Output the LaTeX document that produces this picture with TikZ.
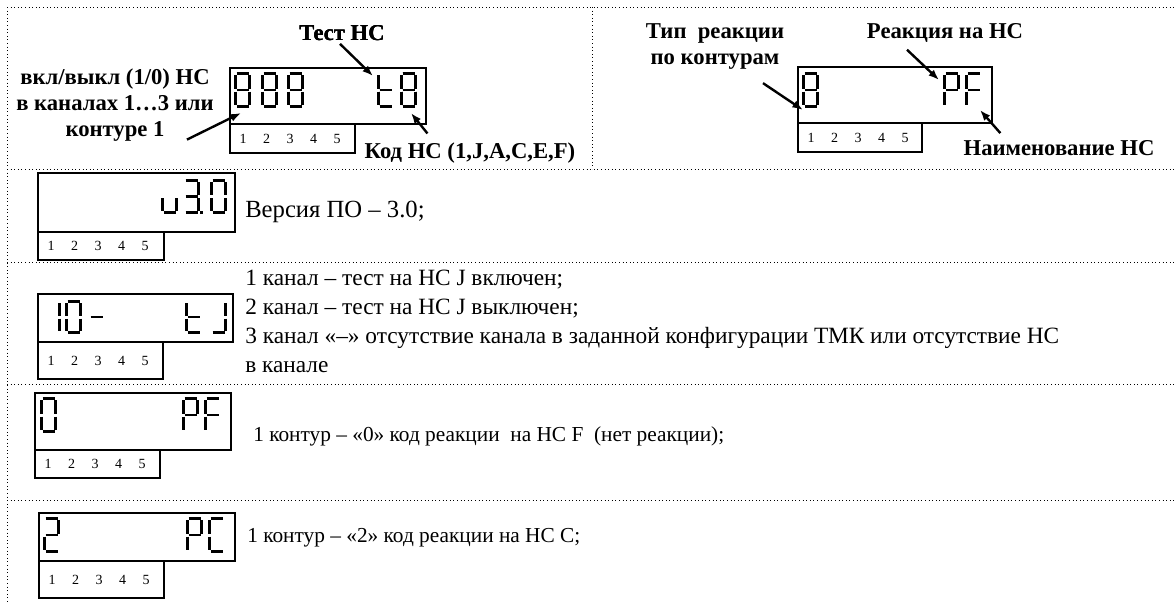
\documentclass[tikz,border=0pt]{standalone}
\usepackage{fontspec}
\setmainfont{Liberation Serif}
\usetikzlibrary{arrows.meta,calc}

\tikzset{
  frameline/.style={dotted, line width=0.7pt},
  lcdbox/.style={line width=1.4pt},
  lcdseg/.style={line width=2.2pt},
  pointer/.style={line width=1.8pt, -{Latex[length=8pt,width=6pt]}},
  callout/.style={font=\fontsize{17}{19.5}\selectfont\bfseries, inner sep=0pt, align=center},
  note/.style={font=\fontsize{16}{21.75}\selectfont, inner sep=0pt, anchor=west, align=left},
  keynum/.style={font=\fontsize{10.5}{12}\selectfont, inner sep=0pt}
}

% segments of one indicator digit, 17 wide, \digh high
\newcommand\lcda{\draw[lcdseg] (2.5,1.5) to (14.5,1.5);}
\newcommand\lcdb{\draw[lcdseg] (15.5,3) to (15.5,\digh/2-1.5);}
\newcommand\lcdc{\draw[lcdseg] (15.5,\digh/2+1.5) to (15.5,\digh-3);}
\newcommand\lcdd{\draw[lcdseg] (2.5,\digh-1.5) to (14.5,\digh-1.5);}
\newcommand\lcde{\draw[lcdseg] (1.5,\digh/2+1.5) to (1.5,\digh-3);}
\newcommand\lcdf{\draw[lcdseg] (1.5,3) to (1.5,\digh/2-1.5);}
\newcommand\lcdg{\draw[lcdseg] (2.5,\digh/2) to (14.5,\digh/2);}
\newcommand\lcdp{\fill (17,\digh-3) rectangle (20,\digh);}

\newcommand\lcddigit[4]{%
  \begin{scope}[shift={(#1,#2)}]
    \def\digh{#3}
    \foreach \s in {#4}{\csname lcd\s\endcsname}
  \end{scope}}

% display with key row: x, y, width, height, key width, key height, name
\newcommand\lcdpanel[7]{%
  \draw[lcdbox] (#1,#2) rectangle ++(#3,#4);
  \draw[lcdbox] (#1,#2+#4) rectangle ++(#5,#6);
  \foreach \n in {1,...,5}
    \node[keynum] (#7-\n) at (#1+13+23.5*\n-23.5,#2+#4+#6/2) {\n};}

\begin{document}
\begin{tikzpicture}[x=0.75pt, y=-0.75pt]
    \useasboundingbox (0,0) rectangle (1176,603);

    \draw[frameline] (7,7) to (1176,7);
    \draw[frameline] (7,7) to (7,603);
    \draw[frameline] (592,7) to (592,169);
    \foreach \y in {169,262,384,500}
      \draw[frameline] (7,\y) to (1176,\y);

    % top left
    \lcdpanel{230}{68}{196}{56}{125}{29}{ka}
    \foreach \x in {234,261,287}
      \lcddigit{\x}{72}{36}{a,b,c,d,e,f,g}
    \lcddigit{377}{72}{36}{f,e,g,d}
    \lcddigit{400}{72}{36}{a,b,c,d,e,f,g}
    \node[callout] (test) at (342,33) {Тест НС};
    \node[callout] (vkl) at (115,105) {вкл/выкл (1/0) НС\\в каналах 1…3 или\\контуре 1};
    \node[callout] (kod) at (470,153) {Код НС (1,J,A,C,E,F)};
    \coordinate (testto) at (373,76);
    \coordinate (vklto) at (241,113);
    \coordinate (kodto) at (411,113);
    \draw[pointer] ([shift={(-2,3)}]test.south) to (testto);
    \draw[pointer] ([shift={(72,-2)}]vkl.south) to (vklto);
    \draw[pointer] ([shift={(63,-9)}]kod.north west) to (kodto);

    % top right
    \lcdpanel{798}{67}{194}{56}{124}{29}{kb}
    \lcddigit{802}{72}{36}{a,b,c,d,e,f,g}
    \lcddigit{943}{72}{36}{a,b,f,e,g}
    \lcddigit{965}{72}{36}{a,f,e,g}
    \node[callout] (tip) at (715,47) {Тип\ \ реакции\\по контурам};
    \node[callout] (reak) at (945,33) {Реакция на НС};
    \node[callout] (naim) at (1059,148) {Наименование НС};
    \coordinate (tipto) at (803,110);
    \coordinate (reakto) at (939,80);
    \coordinate (naimto) at (980,110);
    \draw[pointer] ([shift={(48,13)}]tip.south) to (tipto);
    \draw[pointer] ([shift={(-38,7)}]reak.south) to (reakto);
    \draw[pointer] ([shift={(37,-7)}]naim.north west) to (naimto);

    % version
    \lcdpanel{38}{173}{197}{59}{126}{28}{kc}
    \lcddigit{161}{179}{35}{c,d,e}
    \lcddigit{183}{179}{35}{a,b,g,c,d,p}
    \lcddigit{210}{179}{35}{a,b,c,d,e,f}
    \node[note, font=\fontsize{18.5}{22}\selectfont] (ver) at (245,212) {Версия ПО – 3.0;};

    % channels
    \lcdpanel{38}{294}{195}{48}{125}{37}{kd}
    \lcddigit{44}{300}{34}{b,c}
    \lcddigit{65}{300}{34}{a,b,c,d,e,f}
    \lcddigit{88}{300}{34}{g}
    \lcddigit{185}{300}{34}{f,e,g,d}
    \lcddigit{210}{300}{34}{b,c,d}
    \node[note, font=\fontsize{17.5}{21.75}\selectfont] (chan) at (245,321.5) {1 канал – тест на НС J включен;\\2 канал – тест на НС J выключен;\\3 канал «–» отсутствие канала в заданной конфигурации ТМК или отсутствие НС\\в канале};

    % contour, code 0
    \lcdpanel{35}{393}{196}{57}{125}{28}{ke}
    \lcddigit{40}{397}{36}{a,b,c,d,e,f}
    \lcddigit{182}{397}{36}{a,b,f,e,g}
    \lcddigit{204}{397}{36}{a,f,e,g}
    \node[note] (kont0) at (253,436) {1 контур – «0» код реакции\ \ на НС F\ \ (нет реакции);};

    % contour, code 2
    \lcdpanel{39}{513}{196}{48}{125}{37}{kf}
    \lcddigit{43}{517}{36}{a,b,g,e,d}
    \lcddigit{186}{517}{36}{a,b,f,e,g}
    \lcddigit{208}{517}{36}{a,f,e,d}
    \node[note] (kont2) at (247,538) {1 контур – «2» код реакции на НС С;};
\end{tikzpicture}
\end{document}
